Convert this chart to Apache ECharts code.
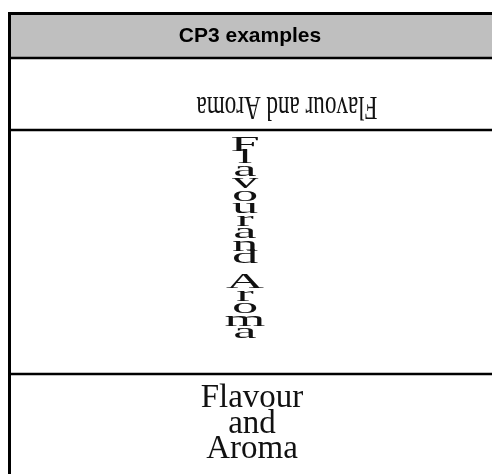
<!DOCTYPE html>
<html>
<head>
<meta charset="utf-8">
<script src="https://cdn.jsdelivr.net/npm/echarts@6/dist/echarts.min.js"></script>
<style>html,body{margin:0;padding:0;background:#fff}#c{width:492px;height:474px}</style>
</head>
<body>
<div id="c"></div>
<script>
// Table content
const headerLabels = ['CP3 examples'];
const exampleTexts = ['Flavour and Aroma', 'Flavour and Aroma', 'Flavour and Aroma'];
const stackedGroups = ['Flavour and', 'Aroma'];
const wrappedLines = ['Flavour', 'and', 'Aroma'];

const chart = echarts.init(document.getElementById('c'), null, {renderer: 'canvas'});

const serif = '"Liberation Serif", "Times New Roman", serif';
const sans = '"Liberation Sans", Arial, sans-serif';

// Layout (pixels)
const L = 9.5, R = 500;
const rowLines = [58, 130, 374];

function stackedText(groups) {
  return groups.map(g => g.replace(/ /g, '').split('').join('\n')).join('\n\n');
}

const elements = [];
// header background
elements.push({type: 'rect', shape: {x: L, y: 13.5, width: R - L, height: rowLines[0] - 13.5}, style: {fill: '#bfbfbf'}, z: 0});
// header label
elements.push({type: 'text', x: 250, y: 36, style: {text: headerLabels[0], font: 'bold 21px ' + sans, fill: '#000', align: 'center', verticalAlign: 'middle'}, z: 5});
// example 1: upside down
elements.push({type: 'text', x: 287, y: 106, rotation: Math.PI, scaleX: 0.7, style: {text: exampleTexts[0], font: '33px ' + serif, fill: '#111', align: 'center', verticalAlign: 'middle'}, z: 5});
// example 2: stacked letters
elements.push({type: 'text', x: 245, y: 239, scaleX: 2.5, style: {text: stackedText(stackedGroups), font: '21px ' + serif, lineHeight: 12.5, fill: '#111', align: 'center', verticalAlign: 'middle'}, z: 5});
// example 3: wrapped
elements.push({type: 'text', x: 252, y: 424, style: {text: wrappedLines.join('\n'), font: '33px ' + serif, lineHeight: 25.5, fill: '#111', align: 'center', verticalAlign: 'middle'}, z: 5});
// borders
elements.push({type: 'line', shape: {x1: L, y1: 12, x2: L, y2: 480}, style: {stroke: '#000', lineWidth: 3}, z: 10});
elements.push({type: 'line', shape: {x1: L - 1.5, y1: 13.5, x2: R, y2: 13.5}, style: {stroke: '#000', lineWidth: 3}, z: 10});
rowLines.forEach(y => elements.push({type: 'line', shape: {x1: L, y1: y, x2: R, y2: y}, style: {stroke: '#000', lineWidth: 2.5}, z: 10}));

chart.setOption({
  animation: false,
  backgroundColor: '#ffffff',
  graphic: {elements: elements}
});
</script>
</body>
</html>
